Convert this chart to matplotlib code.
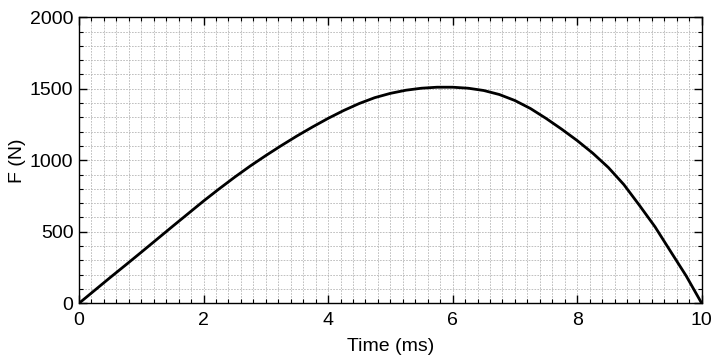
import matplotlib
matplotlib.use("Agg")
import matplotlib.pyplot as plt
from matplotlib.ticker import MultipleLocator

time_ms = [0.0, 0.25, 0.5, 0.75, 1.0, 1.25, 1.5, 1.75, 2.0, 2.25, 2.5, 2.75, 3.0, 3.25,
           3.5, 3.75, 4.0, 4.25, 4.5, 4.75, 5.0, 5.25, 5.5, 5.75, 6.0, 6.25, 6.5, 6.75,
           7.0, 7.25, 7.5, 7.75, 8.0, 8.25, 8.5, 8.75, 9.0, 9.25, 9.5, 9.75, 10.0]
force_N = [0, 90, 180, 268, 357, 447, 537, 626, 715, 800, 882, 960, 1033, 1103,
           1170, 1233, 1293, 1348, 1397, 1438, 1468, 1490, 1504, 1511, 1511, 1504, 1488, 1460,
           1418, 1362, 1293, 1218, 1138, 1050, 950, 830, 685, 535, 363, 192, 0]

plt.rcParams['font.family'] = ['Liberation Sans', 'DejaVu Sans']

fig = plt.figure(figsize=(7.2, 3.6), dpi=100)
ax = fig.add_axes([0.1097, 0.1575, 0.9746 - 0.1097, 0.952 - 0.1575])

ax.plot(time_ms, force_N, color='black', linewidth=2.0, zorder=3,
        solid_joinstyle='round')

ax.set_xlim(0, 10)
ax.set_ylim(0, 2000)
ax.xaxis.set_major_locator(MultipleLocator(2))
ax.xaxis.set_minor_locator(MultipleLocator(0.2))
ax.yaxis.set_major_locator(MultipleLocator(500))
ax.yaxis.set_minor_locator(MultipleLocator(100))

ax.grid(which='both', color='#b5b5b5', linestyle=(0, (2, 1.5)), linewidth=0.6)
ax.set_axisbelow(True)

ax.tick_params(which='both', direction='in', top=True, right=True, colors='black',
               labelsize=14)
ax.tick_params(which='major', length=5.5, width=1.0)
ax.tick_params(axis='x', which='major', pad=6)
ax.tick_params(axis='y', which='major', pad=4)
ax.tick_params(which='minor', length=3, width=0.8)
for s in ax.spines.values():
    s.set_linewidth(1.0)

ax.set_xlabel('Time (ms)', fontsize=14, labelpad=7)
ax.set_ylabel('F (N)', fontsize=14, labelpad=3)

fig.savefig('out.png', dpi=100)
